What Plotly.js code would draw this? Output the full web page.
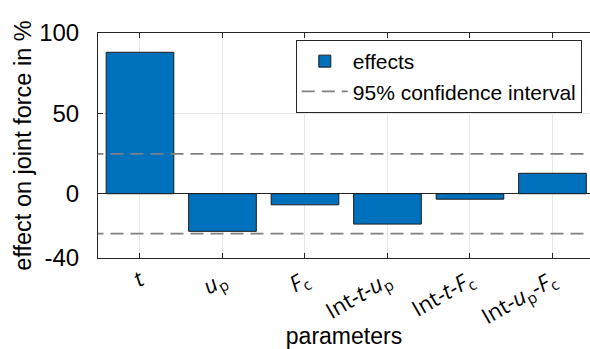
<!DOCTYPE html>
<html>
<head>
<meta charset="utf-8">
<script src="https://cdn.plot.ly/plotly-3.0.1.min.js"></script>
<style>html,body{margin:0;padding:0;background:#fff;}#chart{width:590px;height:349px;}</style>
</head>
<body>
<div id="chart"></div>
<script>
// ---- data ----
const paramIndex = [0, 1, 2, 3, 4, 5];
const tickLabels = [
  '<i>t</i>',
  '<i>u</i><sub>p</sub>',
  '<i>F</i><sub>c</sub>',
  'Int-<i>t</i>-<i>u</i><sub>p</sub>',
  'Int-<i>t</i>-<i>F</i><sub>c</sub>',
  'Int-<i>u</i><sub>p</sub>-<i>F</i><sub>c</sub>'
];
const effects = [88.0, -23.4, -6.9, -18.9, -3.4, 12.7];
const ciBound = 24.8;
const xSpan = [-0.6, 6.0];
const yTicks = [-40, 0, 50, 100];

const lineColor = '#262626';
const ciColor = '#808080';
const sans = 'Liberation Sans, Arial, sans-serif';

const traces = [
  {
    type: 'bar', x: paramIndex, y: effects, name: 'effects', width: 0.82,
    marker: {color: '#0072BD', line: {color: '#1a1a1a', width: 1}},
    showlegend: true
  },
  {
    type: 'scatter', mode: 'lines', x: xSpan, y: [ciBound, ciBound],
    name: '95% confidence interval',
    line: {color: ciColor, width: 1.8, dash: '13px,7px'}, hoverinfo: 'skip'
  },
  {
    type: 'scatter', mode: 'lines', x: xSpan, y: [-ciBound, -ciBound],
    name: '95% confidence interval', showlegend: false,
    line: {color: ciColor, width: 1.8, dash: '13px,7px'}, hoverinfo: 'skip'
  }
];

const layout = {
  width: 590, height: 349,
  margin: {l: 98, r: 0, t: 33, b: 91},
  paper_bgcolor: '#ffffff', plot_bgcolor: '#ffffff',
  showlegend: true,
  legend: {
    x: 0.402, y: 0.969, xanchor: 'left', yanchor: 'top',
    bgcolor: '#ffffff', bordercolor: lineColor, borderwidth: 1,
    font: {family: sans, size: 21, color: '#000000'},
    itemwidth: 46, tracegroupgap: 0
  },
  xaxis: {
    range: [-0.509, 5.455],
    tickmode: 'array', tickvals: paramIndex, ticktext: tickLabels,
    tickangle: -30,
    tickfont: {size: 22, color: '#000000'},
    ticks: 'inside', ticklen: 5, tickcolor: lineColor,
    showline: true, linecolor: lineColor, linewidth: 1, mirror: 'allticks',
    showgrid: true, gridcolor: '#e6e6e6', gridwidth: 1,
    zeroline: false,
    title: {text: 'parameters', font: {family: sans, size: 23, color: '#000000'}, standoff: 0}
  },
  yaxis: {
    range: [-40, 100],
    tickmode: 'array', tickvals: yTicks, ticktext: yTicks.map(String),
    tickfont: {family: sans, size: 24, color: '#000000'},
    ticks: 'inside', ticklen: 5, tickcolor: lineColor, ticklabelstandoff: 13,
    showline: true, linecolor: lineColor, linewidth: 1, mirror: false,
    showgrid: true, gridcolor: '#e6e6e6', gridwidth: 1,
    zeroline: true, zerolinecolor: lineColor, zerolinewidth: 1,
    title: {text: 'effect on joint force in %', font: {family: sans, size: 23.5, color: '#000000'}, standoff: 0},
    automargin: false
  },
  bargap: 0.18
};

Plotly.newPlot('chart', traces, layout, {displayModeBar: false, staticPlot: true});
</script>
</body>
</html>
